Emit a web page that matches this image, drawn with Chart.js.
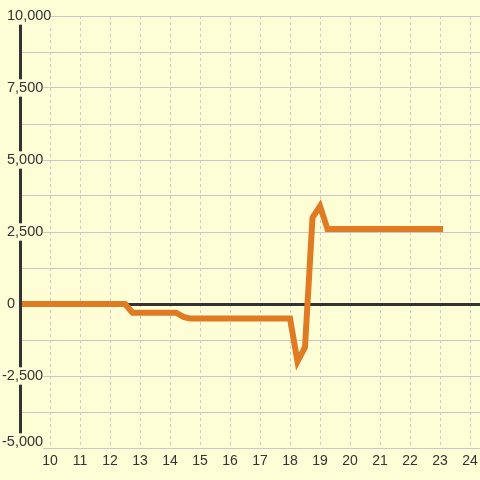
<!DOCTYPE html>
<html>
<head>
<meta charset="utf-8">
<script src="https://cdn.jsdelivr.net/npm/chart.js@4"></script>
<style>
  html, body { margin: 0; padding: 0; background: #fdfdd6; }
  canvas { display: block; }
</style>
</head>
<body>
<canvas id="chart" width="480" height="480"></canvas>
<script>
// line series (hour of day -> value)
const hours  = [8, 12.5, 12.75, 14.2, 14.45, 14.65, 18, 18.25, 18.5, 18.75, 19, 19.25, 23];
const values = [0, 0, -300, -300, -450, -500, -500, -2000, -1500, 3000, 3400, 2600, 2600];

// axes
const xTicks = [10, 11, 12, 13, 14, 15, 16, 17, 18, 19, 20, 21, 22, 23, 24];
const yGrid = [-5000, -3750, -2500, -1250, 0, 1250, 2500, 3750, 5000, 6250, 7500, 8750, 10000];
const yLabels = [-5000, -2500, 0, 2500, 5000, 7500, 10000];

const bg = '#fdfdd6';
const ink = '#333333';
const family = '"Liberation Sans", Arial, sans-serif';

// nudge y labels like the original: bottom one sits above its line, minus signs hang left
const nudgeYLabels = {
  id: 'nudgeYLabels',
  beforeDraw(chart) {
    const y = chart.scales.y;
    const items = y.getLabelItems(chart.chartArea);
    y.ticks.forEach((t, i) => {
      const it = items[i];
      if (!it || it.nudged) return;
      if (t.value === y.min) it.options.translation[1] -= 6;
      if (t.value < 0) it.options.translation[0] -= 5;
      it.nudged = true;
    });
  }
};

new Chart(document.getElementById('chart'), {
  type: 'line',
  data: {
    datasets: [{
      data: hours.map((h, i) => ({ x: h, y: values[i] })),
      borderColor: '#e07b24',
      borderWidth: 6,
      borderCapStyle: 'square',
      pointRadius: 0,
      tension: 0,
      fill: false
    }]
  },
  options: {
    responsive: false,
    animation: false,
    layout: { padding: { top: 16, left: 0, right: 0, bottom: 0 } },
    plugins: { legend: { display: false }, tooltip: { enabled: false } },
    scales: {
      x: {
        type: 'linear',
        min: 9,
        max: 24 + 1 / 3,
        afterBuildTicks: s => { s.ticks = xTicks.map(v => ({ value: v })); },
        afterFit: s => { s.height = 32; s.paddingLeft = 0; s.paddingRight = 0; },
        grid: { color: '#cacaca', lineWidth: 1, drawTicks: false },
        border: { display: false, dash: [3, 3] },
        ticks: { color: ink, font: { family, size: 14 }, padding: 5, maxRotation: 0, autoSkip: false }
      },
      y: {
        min: -5000,
        max: 10000,
        afterBuildTicks: s => { s.ticks = yGrid.map(v => ({ value: v })); },
        afterFit: s => { s.width = 20; s.paddingTop = 0; s.paddingBottom = 0; },
        grid: {
          drawTicks: false,
          color: c => c.tick && c.tick.value === 0 ? ink : '#c8c8c8',
          lineWidth: c => c.tick && c.tick.value === 0 ? 3 : 1
        },
        border: { display: true, color: ink, width: 3, z: 1 },
        ticks: {
          z: 1,
          mirror: true,
          padding: -13,
          color: ink,
          font: { family, size: 14.5 },
          showLabelBackdrop: true,
          backdropColor: bg,
          backdropPadding: 0,
          callback: v => yLabels.includes(v) ? v.toLocaleString('en-US') : ''
        }
      }
    }
  },
  plugins: [nudgeYLabels]
});
</script>
</body>
</html>
